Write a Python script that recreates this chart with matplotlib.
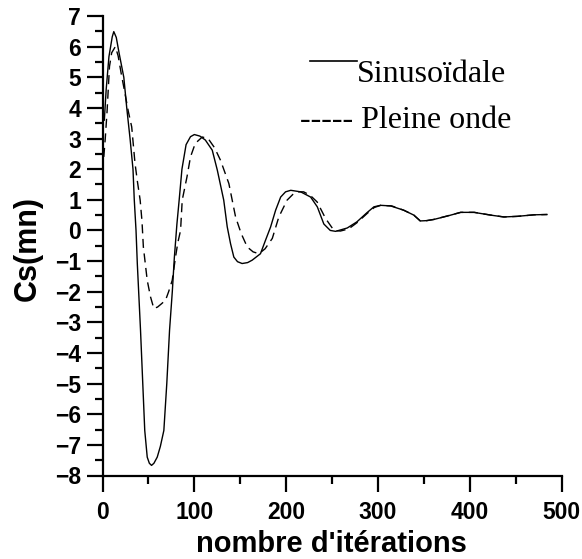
import matplotlib
matplotlib.use("Agg")
import matplotlib.pyplot as plt
from matplotlib.ticker import MultipleLocator
from matplotlib.lines import Line2D

# --- Data ---
sin_x = [2, 4, 7, 10.6, 12.3, 15, 18, 23.2, 26.4, 30, 33.2, 34.6, 36.5, 37.9, 41.4,
         46, 48.7, 51, 53.4, 56, 59.6, 63, 66.8, 70, 73, 76, 78.2, 81, 83.5, 86.5,
         91, 95.8, 100, 106, 112, 119.5, 125, 132, 135.8, 139.4, 143, 147, 152, 158,
         163, 172, 177.5, 183, 188.5, 194, 199.3, 205, 215.7, 226.6, 233.9, 241, 248,
         253.8, 266.5, 277, 288, 295.5, 302.8, 313.7, 328, 339, 346, 353, 361, 375.5,
         390, 404.5, 422.6, 437, 451.7, 470, 484]
sin_y = [3.6, 4.6, 5.67, 6.32, 6.49, 6.3, 5.8, 5.0, 4.0, 3.0, 2.0, 1.0, 0.0, -1.08,
         -3.26, -6.53, -7.4, -7.6, -7.67, -7.6, -7.4, -7.05, -6.53, -5.0, -3.26,
         -2.0, -0.9, 0.2, 1.0, 2.0, 2.8, 3.06, 3.13, 3.08, 2.95, 2.62, 1.97, 0.99,
         0.12, -0.43, -0.87, -1.02, -1.08, -1.05, -0.97, -0.76, -0.32, 0.11, 0.66,
         1.09, 1.26, 1.31, 1.26, 1.09, 0.77, 0.21, 0.0, -0.03, 0.08, 0.28, 0.58,
         0.77, 0.82, 0.80, 0.66, 0.50, 0.31, 0.32, 0.36, 0.47, 0.59, 0.59, 0.50,
         0.44, 0.46, 0.51, 0.52]

pw_x = [1.4, 3, 5, 7.6, 10, 14, 17, 20.5, 24.5, 28, 31.8, 35.4, 38, 41, 43, 44.5,
        48.7, 52.3, 55.9, 60, 64, 68.6, 72, 75.9, 79.5, 82, 85, 86.8, 92, 95.8, 101,
        108.6, 115, 122, 128.5, 137.6, 144.9, 151, 157.6, 164, 170.3, 177, 184.9,
        192, 201, 208.4, 214, 219, 226, 233.7, 242.9, 252, 259, 268, 277, 288,
        296, 303, 315, 328, 339, 346, 353, 361, 375, 390, 405, 423, 437, 452, 470,
        484]
pw_y = [2.4, 3.0, 3.9, 5.35, 5.8, 6.0, 5.7, 5.1, 4.47, 3.9, 3.38, 2.19, 1.6, 0.99,
        0.3, -0.54, -1.63, -2.17, -2.55, -2.5, -2.4, -2.28, -2.0, -1.63, -0.87,
        -0.4, 0.0, 0.99, 1.75, 2.4, 2.84, 3.05, 3.0, 2.7, 2.29, 1.53, 0.44, -0.1,
        -0.54, -0.7, -0.76, -0.6, -0.26, 0.44, 0.99, 1.21, 1.26, 1.26, 1.15, 0.93,
        0.39, 0.0, -0.02, 0.05, 0.25, 0.55, 0.75, 0.82, 0.80, 0.66, 0.50, 0.31,
        0.32, 0.36, 0.47, 0.59, 0.59, 0.50, 0.44, 0.46, 0.51, 0.52]

x_ticks = [0, 100, 200, 300, 400, 500]
y_ticks = [-8, -7, -6, -5, -4, -3, -2, -1, 0, 1, 2, 3, 4, 5, 6, 7]

xlabel = "nombre d'itérations"
ylabel = "Cs(mn)"
leg_sin = "Sinusoïdale"
leg_pw = "----- Pleine onde"

W, H = 582, 559
fig = plt.figure(figsize=(W / 100, H / 100), dpi=100)
ax = fig.add_axes([102.5 / W, 1 - 475.5 / H, (561.7 - 102.5) / W, (475.5 - 16) / H])

ax.plot(sin_x, sin_y, color="black", lw=1.0, solid_joinstyle="round")
ax.plot(pw_x, pw_y, color="black", lw=1.0, dashes=(6.5, 4))

ax.set_xlim(0, 500)
ax.set_ylim(-8, 7)
ax.set_xticks(x_ticks)
ax.set_yticks(y_ticks)
ax.xaxis.set_minor_locator(MultipleLocator(50))
ax.yaxis.set_minor_locator(MultipleLocator(0.5))
for s in ["top", "right"]:
    ax.spines[s].set_visible(False)
for s in ["left", "bottom"]:
    ax.spines[s].set_linewidth(1.6)
ax.tick_params(which="major", direction="out", length=11.5, width=1.6)
ax.tick_params(which="minor", direction="out", length=5.8, width=1.6)
ax.tick_params(axis="x", pad=7)
ax.tick_params(axis="y", pad=4)
for lab in ax.get_xticklabels() + ax.get_yticklabels():
    lab.set_fontfamily("Liberation Sans")
    lab.set_fontweight("bold")
    lab.set_fontsize(16.5)

fig.text(331.5 / W, 1 - 551.7 / H, xlabel, ha="center", va="baseline",
         fontfamily="Liberation Sans", fontweight="bold", fontsize=21)
fig.text(27.5 / W, 1 - 249 / H, ylabel, ha="center", va="center", rotation=90,
         fontfamily="Liberation Sans", fontweight="bold", fontsize=22)

fig.add_artist(Line2D([310 / W, 356.7 / W], [1 - 60.7 / H, 1 - 60.7 / H],
                      color="black", lw=1.2, transform=fig.transFigure))
fig.text(356.7 / W, 1 - 81.7 / H, leg_sin, ha="left", va="baseline",
         fontfamily="Liberation Serif", fontsize=23)
fig.text(300 / W, 1 - 127.7 / H, leg_pw, ha="left", va="baseline",
         fontfamily="Liberation Serif", fontsize=23)

fig.savefig("out.png", dpi=100)
